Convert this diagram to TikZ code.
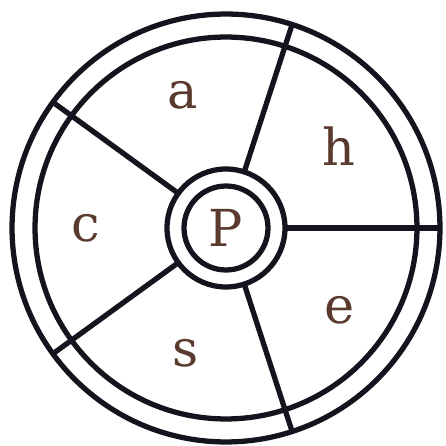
\documentclass[tikz,border=0pt]{standalone}
\usepackage{fontspec}
\setmainfont{DejaVu Serif}
\usepackage{tikz}
\usetikzlibrary{positioning}

\definecolor{inkline}{HTML}{14141E}
\definecolor{inktext}{HTML}{5A3A2E}

\begin{document}
\begin{tikzpicture}[x=0.02cm, y=0.02cm, font=\fontsize{29}{29}\selectfont]
  \tikzstyle{ring}=[draw=inkline, line width=3pt, circle, inner sep=0pt, outer sep=0pt]
  \tikzstyle{spoke}=[draw=inkline, line width=3pt]
  \tikzstyle{letter}=[text=inktext]

  \useasboundingbox (-226,-218) rectangle (220,228);

  % rings
  \node[ring, minimum size=8.56cm] (rim) at (0,0) {};
  \node[ring, minimum size=7.64cm] (rim_in) at (0,0) {};
  \node[ring, minimum size=2.36cm, fill=white] (hub) at (0,0) {};
  \node[ring, minimum size=1.68cm, letter] (hub_in) at (0,0) {P};

  % spokes
  \draw[spoke] (hub.0) -- (rim.0);
  \draw[spoke] (hub.72) -- (rim.72);
  \draw[spoke] (hub.144) -- (rim.144);
  \draw[spoke] (hub.216) -- (rim.216);
  \draw[spoke] (hub.288) -- (rim.288);

  % labels
  \node[letter] (lab_a) at (108:140) {a};
  \node[letter] (lab_h) at (36:140) {h};
  \node[letter] (lab_c) at (180:140) {c};
  \node[letter] (lab_s) at (252:132) {s};
  \node[letter] (lab_e) at (324:140) {e};

\end{tikzpicture}
\end{document}
